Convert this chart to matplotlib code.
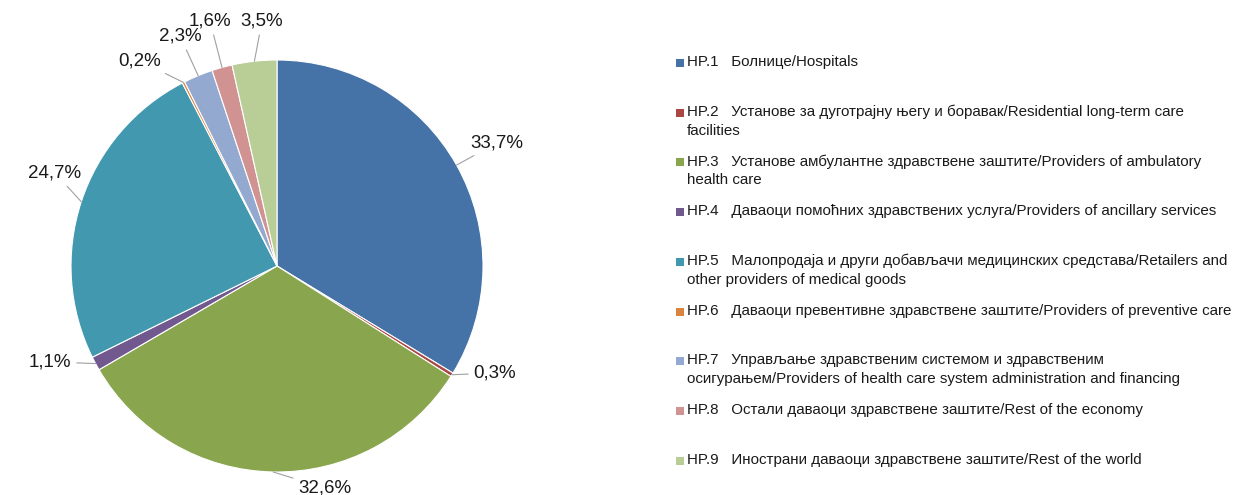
import numpy as np
import matplotlib
matplotlib.use('Agg')
from matplotlib import pyplot as plt
from matplotlib.patches import Rectangle

plt.rcParams['font.family'] = ['Liberation Sans Narrow', 'Liberation Sans', 'DejaVu Sans']

# podaci
codes = ['HP.1', 'HP.2', 'HP.3', 'HP.4', 'HP.5', 'HP.6', 'HP.7', 'HP.8', 'HP.9']
names = ['Болнице/Hospitals',
         'Установе за дуготрајну његу и боравак/Residential long-term care\nfacilities',
         'Установе амбулантне здравствене заштите/Providers of ambulatory\nhealth care',
         'Даваоци помоћних здравствених услуга/Providers of ancillary services',
         'Малопродаја и други добављачи медицинских средстава/Retailers and\nother providers of medical goods',
         'Даваоци превентивне здравствене заштите/Providers of preventive care',
         'Управљање здравственим системом и здравственим\nосигурањем/Providers of health care system administration and financing',
         'Остали даваоци здравствене заштите/Rest of the economy',
         'Инострани даваоци здравствене заштите/Rest of the world']
shares = [33.7, 0.3, 32.6, 1.1, 24.7, 0.2, 2.3, 1.6, 3.5]
colors = ['#4572A7', '#AA4643', '#89A54E', '#71588F', '#4198AF',
          '#DB843D', '#93A9CF', '#D19392', '#B9CD96']

W, H = 1243, 495
fig = plt.figure(figsize=(W / 100, H / 100), dpi=100)

# pie: centar (277, 266) px, radijus 206 px
cx, cy, R = 277, 266, 206
ax = fig.add_axes([0, 0, 554 / W, 1])
wedges, _ = ax.pie(shares, colors=colors, startangle=90, counterclock=False,
                   radius=1, wedgeprops={'edgecolor': 'white', 'linewidth': 0.8})
ax.set_xlim(-cx / R, (554 - cx) / R)
ax.set_ylim(-(H - cy) / R, cy / R)
ax.set_aspect('auto')
ax.axis('off')

# pozicije etiketa (px na slici)
label_px = [(497, 143), (495, 373), (325, 488), (50, 362), (55, 173),
            (140, 61), (180, 36), (210, 21), (262, 21)]
for w, v, (lx, ly) in zip(wedges, shares, label_px):
    ang = np.deg2rad((w.theta1 + w.theta2) / 2)
    xy = (np.cos(ang), np.sin(ang))
    txy = ((lx - cx) / R, (cy - ly) / R)
    ax.annotate(('%.1f%%' % v).replace('.', ','), xy=xy, xytext=txy,
                ha='center', va='center', fontsize=13.5, color='#1a1a1a',
                arrowprops=dict(arrowstyle='-', color='#a0a0a0', lw=0.8,
                                shrinkA=2, shrinkB=0),
                annotation_clip=False)

# legenda
y0 = 63
for i, (c, n, col) in enumerate(zip(codes, names, colors)):
    ytop = y0 + i * 49.7
    fig.patches.append(Rectangle((676 / W, 1 - (ytop + 4) / H), 8 / W, 8 / H,
                                 transform=fig.transFigure, facecolor=col,
                                 edgecolor='none'))
    fig.text(687 / W, 1 - (ytop - 8) / H, c + '   ' + n, ha='left', va='top',
             fontsize=10.9, color='#1a1a1a', linespacing=1.4)

fig.savefig('out.png', dpi=100)
